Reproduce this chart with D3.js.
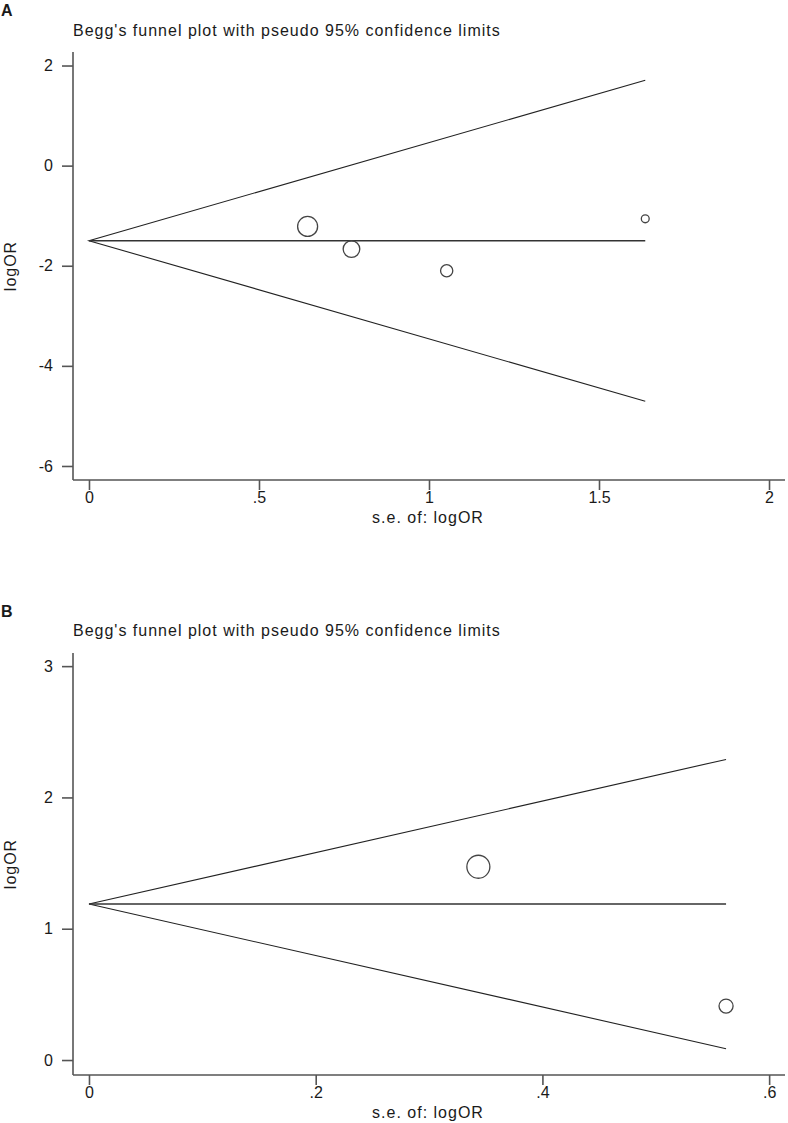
<!DOCTYPE html>
<html><head><meta charset="utf-8">
<script src="https://cdn.jsdelivr.net/npm/d3@7"></script>
<style>body{margin:0;background:#fff}svg{display:block}text{font-family:"Liberation Sans",Arial,sans-serif;fill:#1a1a1a}</style>
</head><body>
<svg id="c" width="788" height="1123"></svg>
<script>
// ---- Data ----
const titleText = "Begg's funnel plot with pseudo 95% confidence limits";
const xLabel = "s.e. of: logOR";
const yLabel = "logOR";

const panelA_se = [0.643, 0.772, 1.052, 1.636];
const panelA_logOR = [-1.215, -1.667, -2.10, -1.062];
const panelA_theta = -1.5;
const panelA_xTicks = [0, 0.5, 1, 1.5, 2];
const panelA_xTickLabels = ["0", ".5", "1", "1.5", "2"];
const panelA_yTicks = [2, 0, -2, -4, -6];
const panelA_yTickLabels = ["2", "0", "-2", "-4", "-6"];

const panelB_se = [0.3435, 0.562];
const panelB_logOR = [1.472, 0.411];
const panelB_theta = 1.188;
const panelB_xTicks = [0, 0.2, 0.4, 0.6];
const panelB_xTickLabels = ["0", ".2", ".4", ".6"];
const panelB_yTicks = [0, 1, 2, 3];
const panelB_yTickLabels = ["0", "1", "2", "3"];

const z = 1.96;
const FONT = '"Liberation Sans",Arial,sans-serif';

const svg = d3.select("#c");

function panel(cfg) {
  const g = svg.append("g");
  const x = d3.scaleLinear().domain(cfg.xDomain).range([73, 785]);
  const y = d3.scaleLinear().domain(cfg.yDomain).range([cfg.bottom, cfg.top]);

  g.append("text").attr("x", 1).attr("y", cfg.letterY).attr("font-size", 16)
    .attr("font-weight", "bold").text(cfg.letter);
  g.append("text").attr("x", 73).attr("y", cfg.titleY).attr("font-size", 16)
    .attr("letter-spacing", 1).text(titleText);

  // axes
  const xAxis = d3.axisBottom(x).tickValues(cfg.xTicks).tickSize(10).tickPadding(2)
    .tickFormat((d, i) => cfg.xTickLabels[i]);
  const yAxis = d3.axisLeft(y).tickValues(cfg.yTicks).tickSize(11).tickPadding(9)
    .tickFormat((d, i) => cfg.yTickLabels[i]);
  const gx = g.append("g").attr("transform", `translate(0,${cfg.bottom})`).call(xAxis);
  const gy = g.append("g").attr("transform", `translate(73,0)`).call(yAxis);
  [gx, gy].forEach(a => {
    a.attr("font-size", 16).attr("font-family", FONT);
    a.select(".domain").attr("stroke", "#555").attr("stroke-width", 1.6);
    a.selectAll(".tick line").attr("stroke", "#555").attr("stroke-width", 1.6);
    a.selectAll(".tick text").attr("fill", "#1a1a1a");
  });
  gx.select(".domain").attr("d", `M73,0H785`);
  gy.select(".domain").attr("d", `M0,${cfg.top}V${cfg.bottom}`);

  g.append("text").attr("x", 428).attr("y", cfg.bottom + 43).attr("text-anchor", "middle")
    .attr("font-size", 16).attr("letter-spacing", 1).text(xLabel);
  g.append("text").attr("transform", `translate(16,${(cfg.top + cfg.bottom) / 2}) rotate(-90)`)
    .attr("text-anchor", "middle").attr("font-size", 16).attr("letter-spacing", 1).text(yLabel);

  const maxSe = d3.max(cfg.se);
  const line = d3.line().x(d => x(d[0])).y(d => y(d[1]));
  g.append("path").attr("d", line([[maxSe, cfg.theta + z * maxSe], [0, cfg.theta], [maxSe, cfg.theta - z * maxSe]]))
    .attr("fill", "none").attr("stroke", "#222").attr("stroke-width", 1.1);
  g.append("path").attr("d", line([[0, cfg.theta], [maxSe, cfg.theta]]))
    .attr("fill", "none").attr("stroke", "#333").attr("stroke-width", 1.5);

  const w = cfg.se.map(s => 1 / (s * s));
  const r = d3.scaleSqrt().domain([0, d3.max(w)]).range([0, cfg.maxR]);
  g.selectAll("circle.pt").data(cfg.se.map((s, i) => ({ s, v: cfg.logOR[i], w: w[i] })))
    .join("circle").attr("class", "pt")
    .attr("cx", d => x(d.s)).attr("cy", d => y(d.v)).attr("r", d => r(d.w))
    .attr("fill", "none").attr("stroke", "#444").attr("stroke-width", 1.3);
}

panel({
  letter: "A", letterY: 16, titleY: 36,
  top: 52, bottom: 480,
  xDomain: [-0.047, 2.047], yDomain: [-6.28, 2.27],
  xTicks: panelA_xTicks, xTickLabels: panelA_xTickLabels,
  yTicks: panelA_yTicks, yTickLabels: panelA_yTickLabels,
  se: panelA_se, logOR: panelA_logOR, theta: panelA_theta, maxR: 10
});
panel({
  letter: "B", letterY: 617, titleY: 636,
  top: 653, bottom: 1075,
  xDomain: [-0.0141, 0.614], yDomain: [-0.114, 3.10],
  xTicks: panelB_xTicks, xTickLabels: panelB_xTickLabels,
  yTicks: panelB_yTicks, yTickLabels: panelB_yTickLabels,
  se: panelB_se, logOR: panelB_logOR, theta: panelB_theta, maxR: 11.5
});
</script>
</body></html>
